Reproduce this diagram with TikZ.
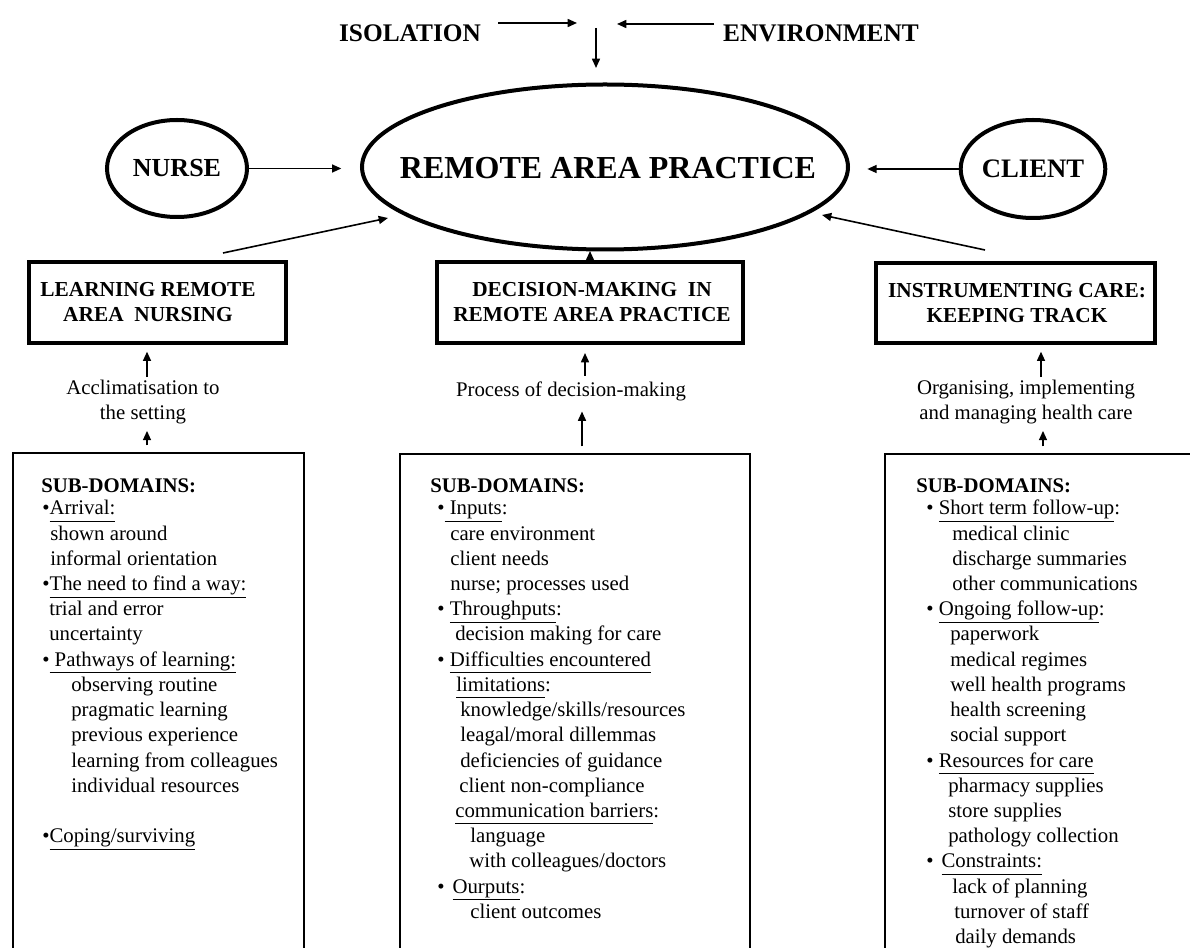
\documentclass[tikz,border=0pt]{standalone}
\usepackage{fontspec}
\setmainfont{Liberation Serif}
\usetikzlibrary{arrows.meta,shapes.geometric}
% underline at a fixed depth (below descenders)
\newcommand\uln[1]{\underline{#1\vphantom{gy}}}
% one text line inside a sub-domain box
\newcommand\tline[4]{\node[tl] (#1) at (#2,#3) {#4};}

\begin{document}
\begin{tikzpicture}[x=0.75pt,y=-0.75pt,
  arr/.style={line width=1.2pt,-{Triangle[length=7pt,width=6pt]}},
  oval/.style={ellipse,draw,line width=3pt,inner sep=0pt},
  titlebox/.style={draw,line width=3pt,inner sep=0pt},
  titletext/.style={align=center,inner sep=0pt,
    font=\fontsize{16}{18.75}\selectfont\bfseries},
  subbox/.style={draw,line width=1.5pt,anchor=north west,inner sep=0pt,minimum height=420pt},
  caption/.style={align=center,inner sep=0pt,font=\fontsize{15.6}{18.75}\selectfont},
  tl/.style={anchor=base west,inner sep=0pt,font=\fontsize{15.6}{18.75}\selectfont},
  head/.style={inner sep=0pt,font=\fontsize{19}{22}\selectfont\bfseries}]

\useasboundingbox (0,0) rectangle (1190,948);
\clip (0,0) rectangle (1190,948);
\fill[white] (0,0) rectangle (1190,948);

% ---- top row: influences on practice
\node[head] (iso) at (410,33) {ISOLATION};
\node[head] (env) at (821,33) {ENVIRONMENT};
\coordinate (isoS) at (498,23);
\coordinate (isoT) at (577,23);
\coordinate (envS) at (714,24);
\coordinate (envT) at (617,24);
\coordinate (dnS) at (596,28);
\coordinate (dnT) at (596,68);
\draw[arr] (isoS) -- (isoT);
\draw[arr] (envS) -- (envT);
\draw[arr] (dnS) -- (dnT);

% ---- central concept and its two actors
\node[oval,minimum width=364.5pt,minimum height=123.75pt] (main) at (605,167) {};
\node[inner sep=0pt,font=\fontsize{24}{28}\selectfont\bfseries] (mainT) at (608,168)
  {REMOTE AREA PRACTICE};
\node[oval,minimum width=105pt,minimum height=72.75pt,
  font=\fontsize{19.5}{22}\selectfont\bfseries] (nurse) at (177,168.5) {NURSE};
\node[oval,minimum width=105pt,minimum height=73.5pt,
  font=\fontsize{20}{22}\selectfont\bfseries] (client) at (1033,169) {CLIENT};
\draw[arr,shorten >=14pt] (nurse.east) -- (nurse.east -| main.west);
\draw[arr,shorten >=13pt] (client.west) -- (client.west -| main.east);

% ---- the three domains
\node[titlebox,minimum width=192.75pt,minimum height=60.75pt] (learn) at (157.5,302.5) {};
\node[titletext] (learnT) at (148,302.5) {LEARNING REMOTE\\AREA\ \ NURSING};
\node[titlebox,minimum width=229.5pt,minimum height=60.75pt] (dec) at (590,302.5) {};
\node[titletext] (decT) at (592,302.5) {DECISION-MAKING\ \ IN\\REMOTE AREA PRACTICE};
\node[titlebox,minimum width=209.25pt,minimum height=60pt] (instr) at (1015.5,303) {};
\node[titletext] (instrT) at (1017,303) {INSTRUMENTING CARE:\\KEEPING TRACK};

\coordinate (lS) at (223,253);
\coordinate (lT) at (388,218);
\coordinate (rS) at (985,250);
\coordinate (rT) at (822,215);
\coordinate (cT) at (590,251);
\draw[arr] (lS) -- (lT);
\draw[arr] (rS) -- (rT);
\draw[arr] (dec.north) -- (cT);

% ---- processes linking sub-domains to domains
\node[caption] (acc) at (143,402) {Acclimatisation to\\the setting};
\node[caption] (proc) at (571,391) {Process of decision-making};
\node[caption] (org) at (1026,402) {Organising, implementing\\and managing health care};

\coordinate (xL) at (147,0);
\coordinate (xM1) at (585,0);
\coordinate (xM2) at (582,0);
\coordinate (xR1) at (1041,0);
\coordinate (xR2) at (1043,0);

\node[subbox,minimum width=218.25pt] (subL) at (12,452) {};
\node[subbox,minimum width=262.5pt] (subM) at (399,453) {};
\node[subbox,minimum width=240pt] (subR) at (884,453) {};

\draw[arr,shorten <=2pt,shorten >=5pt] (xL |- acc.north) -- (xL |- learn.south);
\draw[arr,shorten <=5pt,shorten >=5pt] (xL |- subL.north) -- (xL |- acc.south);
\draw[arr,shorten <=4pt,shorten >=6pt] (xM1 |- proc.north) -- (xM1 |- dec.south);
\draw[arr,shorten <=5pt,shorten >=8pt] (xM2 |- subM.north) -- (xM2 |- proc.south);
\draw[arr,shorten <=2pt,shorten >=5pt] (xR1 |- org.north) -- (xR1 |- instr.south);
\draw[arr,shorten <=5pt,shorten >=5pt] (xR2 |- subR.north) -- (xR2 |- org.south);

% ---- sub-domains: learning remote area nursing
\tline{L0}{41}{493}{\textbf{SUB-DOMAINS:}}
\tline{L1}{42}{515}{•\uln{Arrival:}}
\tline{L2}{50}{540.2}{shown around}
\tline{L3}{50}{565.4}{informal orientation}
\tline{L4}{42}{590.6}{•\uln{The need to find a way:}}
\tline{L5}{49}{615.8}{trial and error}
\tline{L6}{49}{641}{uncertainty}
\tline{L7}{42}{666.2}{•\uln{ Pathways of learning:}}
\tline{L8}{71}{691.4}{observing routine}
\tline{L9}{71}{716.6}{pragmatic learning}
\tline{L10}{71}{741.8}{previous experience}
\tline{L11}{71}{767}{learning from colleagues}
\tline{L12}{71}{792.2}{individual resources}
\tline{L13}{42}{842.6}{•\uln{Coping/surviving}}

% ---- sub-domains: decision-making
\tline{M0}{430}{493}{\textbf{SUB-DOMAINS:}}
\tline{M1}{437}{515}{•\uln{ Inputs}:}
\tline{M2}{450}{540.2}{care environment}
\tline{M3}{450}{565.4}{client needs}
\tline{M4}{450}{590.6}{nurse; processes used}
\tline{M5}{437}{615.8}{• \uln{Throughputs}:}
\tline{M6}{455}{641}{decision making for care}
\tline{M7}{437}{666.2}{• \uln{Difficulties encountered}}
\tline{M8}{456}{691.4}{\uln{limitations}:}
\tline{M9}{460}{716.6}{knowledge/skills/resources}
\tline{M10}{460}{741.8}{leagal/moral dillemmas}
\tline{M11}{460}{767}{deficiencies of guidance}
\tline{M12}{459}{792.2}{client non-compliance}
\tline{M13}{455}{817.4}{\uln{communication barriers}:}
\tline{M14}{470}{842.6}{language}
\tline{M15}{469}{867.8}{with colleagues/doctors}
\tline{M16}{437}{893}{•\hspace{6pt}\uln{Ourputs}:}
\tline{M17}{470}{918.2}{client outcomes}

% ---- sub-domains: instrumenting care
\tline{R0}{916}{493}{\textbf{SUB-DOMAINS:}}
\tline{R1}{926}{515}{• \uln{Short term follow-up}:}
\tline{R2}{952}{540.2}{medical clinic}
\tline{R3}{952}{565.4}{discharge summaries}
\tline{R4}{952}{590.6}{other communications}
\tline{R5}{926}{615.8}{• \uln{Ongoing follow-up}:}
\tline{R6}{950}{641}{paperwork}
\tline{R7}{950}{666.2}{medical regimes}
\tline{R8}{950}{691.4}{well health programs}
\tline{R9}{950}{716.6}{health screening}
\tline{R10}{950}{741.8}{social support}
\tline{R11}{926}{767}{• \uln{Resources for care}}
\tline{R12}{948}{792.2}{pharmacy supplies}
\tline{R13}{948}{817.4}{store supplies}
\tline{R14}{948}{842.6}{pathology collection}
\tline{R15}{926}{867.8}{•\hspace{6pt}\uln{Constraints:}}
\tline{R16}{952}{893}{lack of planning}
\tline{R17}{954}{918.2}{turnover of staff}
\tline{R18}{955}{943.4}{daily demands}
\end{tikzpicture}
\end{document}
